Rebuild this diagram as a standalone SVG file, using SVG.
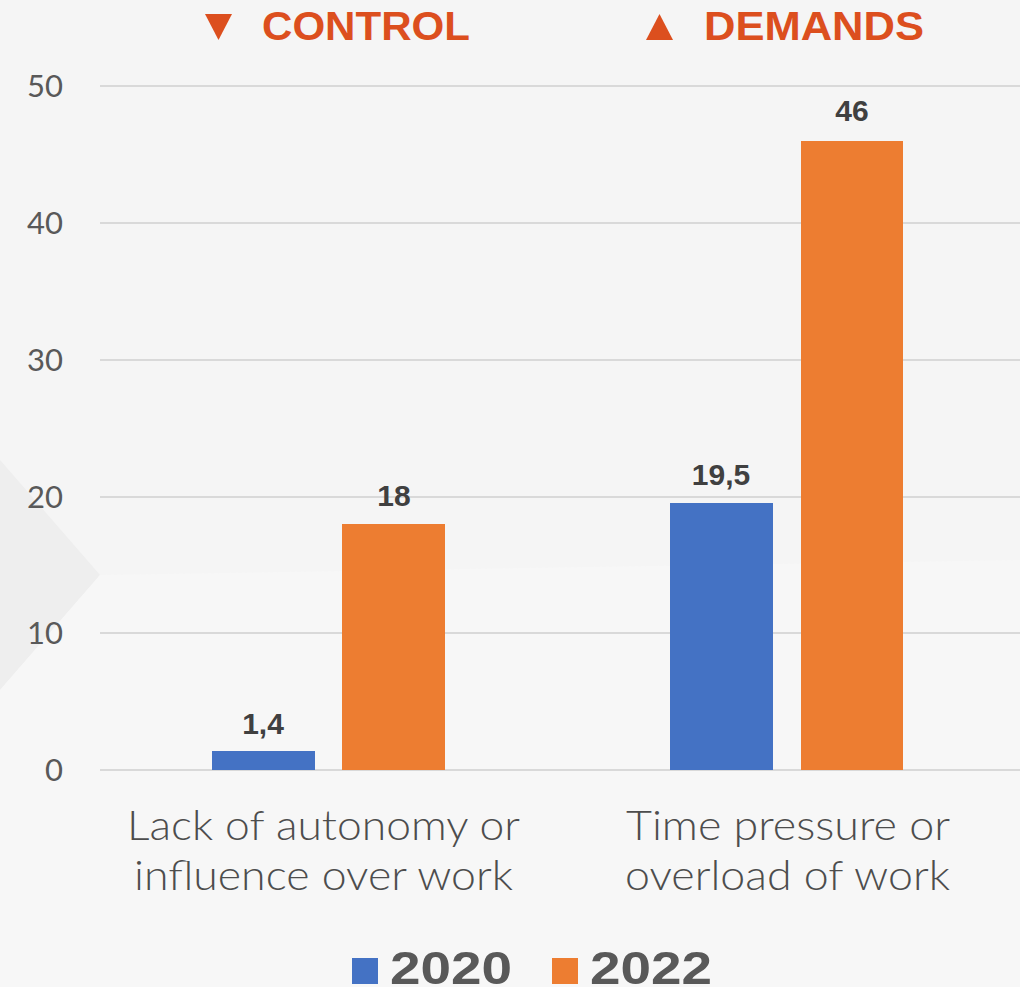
<svg xmlns="http://www.w3.org/2000/svg" width="1020" height="987" viewBox="0 0 1020 987">
<style>
.hdr{font-family:"Liberation Sans",Arial,sans-serif;font-weight:bold;font-size:40px;fill:#DC4F1E}
.tick{font-family:Lato,"Liberation Sans",sans-serif;font-weight:400;font-size:31px;fill:#595959;text-anchor:end}
.cat{font-family:Lato,"Liberation Sans",sans-serif;font-weight:300;font-size:41px;fill:#4d4d4d}
.val{font-family:"Liberation Sans",Arial,sans-serif;font-weight:bold;font-size:30px;fill:#404040;text-anchor:middle}
.leg{font-family:"Liberation Sans",Arial,sans-serif;font-weight:bold;font-size:47px;fill:#595959}
.grid{stroke:#d9d9d9;stroke-width:2}
.b20{fill:#4472C4}
.b22{fill:#ED7D31}
</style>
<rect width="1020" height="987" fill="#f5f5f5"/>
<polygon points="0,460 100,575 0,690" fill="#eeeeee"/>
<polygon points="100,575 1020,560 1020,987 0,987 0,690" fill="#f7f7f7"/>
<g id="header">
<polygon points="205,14 232,14 218.5,40" fill="#DC4F1E"/>
<text class="hdr" x="262" y="40" textLength="208" lengthAdjust="spacingAndGlyphs">CONTROL</text>
<polygon points="646,40 673,40 659.5,14" fill="#DC4F1E"/>
<text class="hdr" x="704" y="40" textLength="220" lengthAdjust="spacingAndGlyphs">DEMANDS</text>
</g>
<g id="axis">
<line class="grid" x1="100" y1="86" x2="1020" y2="86"/>
<line class="grid" x1="100" y1="223" x2="1020" y2="223"/>
<line class="grid" x1="100" y1="360" x2="1020" y2="360"/>
<line class="grid" x1="100" y1="497" x2="1020" y2="497"/>
<line class="grid" x1="100" y1="633" x2="1020" y2="633"/>
<line class="grid" x1="100" y1="770" x2="1020" y2="770"/>
<text class="tick" x="63" y="97">50</text>
<text class="tick" x="63" y="234">40</text>
<text class="tick" x="63" y="371">30</text>
<text class="tick" x="63" y="508">20</text>
<text class="tick" x="63" y="644">10</text>
<text class="tick" x="63" y="781">0</text>
</g>
<g id="bar-control-2020">
<rect class="b20" x="212" y="751" width="103" height="19"/>
<text class="val" x="263" y="734">1,4</text>
</g>
<g id="bar-control-2022">
<rect class="b22" x="342" y="524" width="103" height="246"/>
<text class="val" x="394" y="506">18</text>
</g>
<g id="bar-demands-2020">
<rect class="b20" x="670" y="503" width="103" height="267"/>
<text class="val" x="721" y="485">19,5</text>
</g>
<g id="bar-demands-2022">
<rect class="b22" x="801" y="141" width="102" height="629"/>
<text class="val" x="852" y="121">46</text>
</g>
<g id="categories">
<text class="cat" x="127" y="840" textLength="393" lengthAdjust="spacingAndGlyphs">Lack of autonomy or</text>
<text class="cat" x="134" y="890" textLength="379" lengthAdjust="spacingAndGlyphs">influence over work</text>
<text class="cat" x="626" y="840" textLength="324" lengthAdjust="spacingAndGlyphs">Time pressure or</text>
<text class="cat" x="625" y="890" textLength="325" lengthAdjust="spacingAndGlyphs">overload of work</text>
</g>
<g id="legend">
<rect class="b20" x="352" y="958" width="26" height="26"/>
<text class="leg" x="390" y="984" textLength="122" lengthAdjust="spacingAndGlyphs">2020</text>
<rect class="b22" x="552" y="958" width="26" height="26"/>
<text class="leg" x="590" y="984" textLength="122" lengthAdjust="spacingAndGlyphs">2022</text>
</g>
</svg>
